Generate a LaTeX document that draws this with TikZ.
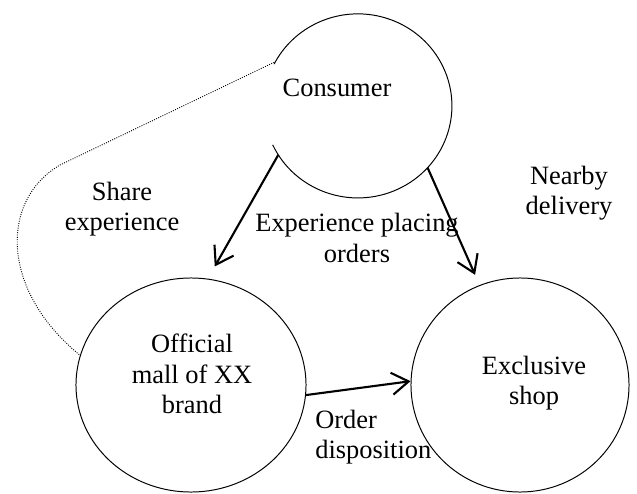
\documentclass[tikz,border=0pt]{standalone}
\usepackage{fontspec}
\setmainfont{Liberation Serif}
\usetikzlibrary{shapes.geometric,arrows.meta}
\begin{document}
\begin{tikzpicture}[x=0.025cm,y=-0.025cm,
    every node/.style={font=\fontsize{18.8}{21.5}\selectfont,align=center,inner sep=0pt},
    party/.style={ellipse,inner sep=0pt,line width=0.7pt},
    flow/.style={line width=1.5pt,-{Straight Barb[length=0.42cm,width=0.55cm]}}]
  \useasboundingbox (0,0) rectangle (637,493);
  \draw
    (358,105) node[party,minimum width=4.7cm,minimum height=4.6cm] (consumer){}
    (191,385) node[party,draw,minimum width=5.75cm,minimum height=5.35cm] (mall){}
    (520,385) node[party,draw,minimum width=5.45cm,minimum height=5.35cm] (shop){};
  \draw[line width=0.7pt] (consumer.205) arc[start angle=205,end angle=513,x radius=2.35cm,y radius=2.3cm];
  \node (consumername) at (337,88) {Consumer};
  \node (mallname) at (192,374) {Official\\mall of XX\\brand};
  \node (shopname) at (534,383) {Exclusive\\shop};
  \node (share) at (122,209) {Share\\experience};
  \node (placing) at (357,238) {Experience placing\\orders};
  \node (nearby) at (569,193) {Nearby\\delivery};
  \node[align=left,anchor=west] (disposition) at (315,437) {Order\\disposition};
  \coordinate (bend) at (60,165);
  \begin{scope}[flow]
    \draw[shorten >=0.35cm] (consumer.212) to (mall.81);
    \draw[shorten >=0.28cm] (consumer.-42) to (shop.112);
    \draw (mall.-5) to (shop.178);
  \end{scope}
  \draw[densely dotted,line width=0.65pt] (consumer.153) -- (bend) .. controls (0,200) and (0,290) .. (mall.165);
\end{tikzpicture}
\end{document}
